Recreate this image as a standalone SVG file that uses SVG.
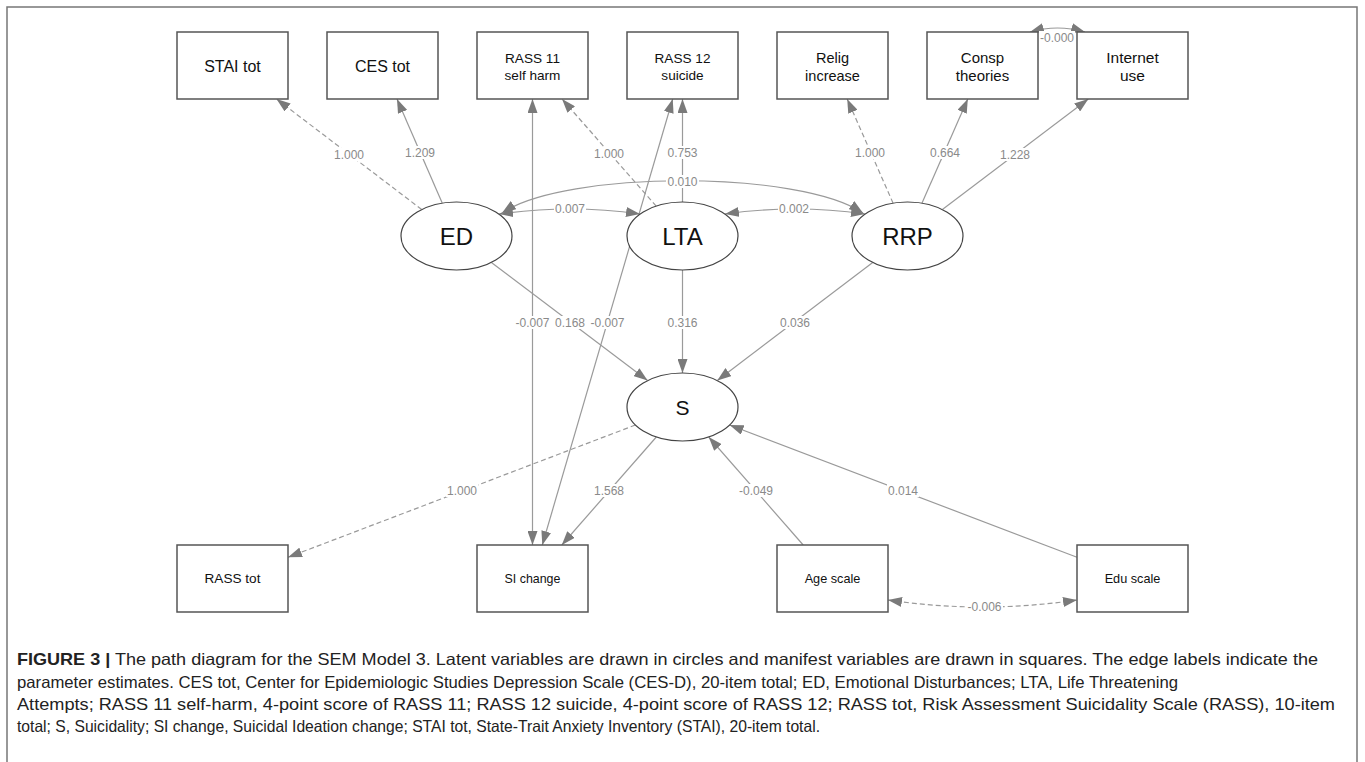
<svg xmlns="http://www.w3.org/2000/svg" width="1365" height="762" viewBox="0 0 1365 762">
<style>
.box{fill:#fff;stroke:#555;stroke-width:1.5}
.ell{fill:#fff;stroke:#444;stroke-width:1.2}
.nt{font-family:"Liberation Sans",Arial,sans-serif;fill:#111;text-anchor:middle}
.e{fill:none;stroke:#9a9a9a;stroke-width:1.2}
.d{stroke-dasharray:5 3}
.lb{fill:#fff}
.lt{font-family:"Liberation Sans",Arial,sans-serif;font-size:12px;fill:#8a8a8a;text-anchor:middle;dominant-baseline:central}
.cap{font-family:"Liberation Sans",Arial,sans-serif;font-size:16.5px;fill:#222}
</style>
<defs>
<marker id="ah" viewBox="0 0 14 10" refX="14" refY="5" markerWidth="14" markerHeight="10" markerUnits="userSpaceOnUse" orient="auto-start-reverse"><path d="M0,0 L14,5 L0,10 z" fill="#7a7a7a"/></marker>
</defs>
<rect width="1365" height="762" fill="#fff"/>
<path d="M7,762 V7 H1357 V762" fill="none" stroke="#777" stroke-width="1.5"/>

<g id="connectors">
<line class="e d" x1="421.7" y1="209.5" x2="276.5" y2="99" marker-end="url(#ah)"/>
<line class="e" x1="442.2" y1="203.1" x2="397" y2="99" marker-end="url(#ah)"/>
<line class="e d" x1="656.2" y1="206.1" x2="562" y2="99" marker-end="url(#ah)"/>
<line class="e" x1="682.5" y1="202" x2="682.5" y2="99" marker-end="url(#ah)"/>
<line class="e d" x1="893.1" y1="203.2" x2="847.2" y2="99" marker-end="url(#ah)"/>
<line class="e" x1="921.9" y1="203.2" x2="967.8" y2="99" marker-end="url(#ah)"/>
<line class="e" x1="942.4" y1="209.6" x2="1088.3" y2="99" marker-end="url(#ah)"/>
<line class="e" x1="491.4" y1="262.4" x2="647.6" y2="380.6" marker-end="url(#ah)"/>
<line class="e" x1="682.5" y1="270" x2="682.5" y2="373" marker-end="url(#ah)"/>
<line class="e" x1="872.7" y1="262.5" x2="717.3" y2="380.5" marker-end="url(#ah)"/>
<line class="e" x1="532.5" y1="99" x2="532.5" y2="545" marker-start="url(#ah)" marker-end="url(#ah)"/>
<line class="e" x1="672.7" y1="99" x2="542.3" y2="545" marker-start="url(#ah)" marker-end="url(#ah)"/>
<line class="e" x1="656.3" y1="437" x2="561.8" y2="545" marker-end="url(#ah)"/>
<line class="e d" x1="635.4" y1="425" x2="288" y2="557.3" marker-end="url(#ah)"/>
<line class="e" x1="803.2" y1="545" x2="708.7" y2="437" marker-end="url(#ah)"/>
<line class="e" x1="1077" y1="557.3" x2="729.6" y2="425" marker-end="url(#ah)"/>
<path class="e d" d="M888,600 Q982.5,614 1077,600" marker-start="url(#ah)" marker-end="url(#ah)"/>
<path class="e" d="M499,214 Q570,204 640,214" marker-start="url(#ah)" marker-end="url(#ah)"/>
<path class="e" d="M725,214 Q795,204 865,214" marker-start="url(#ah)" marker-end="url(#ah)"/>
<path class="e" d="M502,213 C565,170 800,170 863,213" marker-start="url(#ah)" marker-end="url(#ah)"/>
<path class="e" d="M1030,32 Q1057.5,24 1085,32" marker-start="url(#ah)" marker-end="url(#ah)"/>

<rect class="lb" x="333" y="148" width="32" height="13"/><text class="lt" x="349" y="155">1.000</text>
<rect class="lb" x="404" y="146" width="32" height="13"/><text class="lt" x="420" y="153">1.209</text>
<rect class="lb" x="593" y="147" width="32" height="13"/><text class="lt" x="609" y="154">1.000</text>
<rect class="lb" x="666" y="146" width="33" height="13"/><text class="lt" x="682.5" y="153">0.753</text>
<rect class="lb" x="854" y="146" width="32" height="13"/><text class="lt" x="870" y="153">1.000</text>
<rect class="lb" x="929" y="146" width="32" height="13"/><text class="lt" x="945" y="153">0.664</text>
<rect class="lb" x="999" y="148" width="32" height="13"/><text class="lt" x="1015" y="155">1.228</text>
<rect class="lb" x="666" y="175" width="33" height="13"/><text class="lt" x="682.5" y="182">0.010</text>
<rect class="lb" x="554" y="202" width="32" height="13"/><text class="lt" x="570" y="209">0.007</text>
<rect class="lb" x="778" y="202" width="32" height="13"/><text class="lt" x="794" y="209">0.002</text>
<rect class="lb" x="514" y="316" width="37" height="13"/><text class="lt" x="532.5" y="323">-0.007</text>
<rect class="lb" x="554" y="316" width="32" height="13"/><text class="lt" x="570" y="323">0.168</text>
<rect class="lb" x="589" y="316" width="37" height="13"/><text class="lt" x="607.5" y="323">-0.007</text>
<rect class="lb" x="666" y="316" width="33" height="13"/><text class="lt" x="682.5" y="323">0.316</text>
<rect class="lb" x="779" y="316" width="32" height="13"/><text class="lt" x="795" y="323">0.036</text>
<rect class="lb" x="446" y="484" width="32" height="13"/><text class="lt" x="462" y="491">1.000</text>
<rect class="lb" x="593" y="484" width="32" height="13"/><text class="lt" x="609" y="491">1.568</text>
<rect class="lb" x="738" y="484" width="37" height="13"/><text class="lt" x="756" y="491">-0.049</text>
<rect class="lb" x="887" y="484" width="32" height="13"/><text class="lt" x="903" y="491">0.014</text>
<rect class="lb" x="966" y="600" width="37" height="13"/><text class="lt" x="984.5" y="607">-0.006</text>
<rect class="lb" x="1039" y="31" width="36" height="13"/><text class="lt" x="1057" y="38">-0.000</text>
</g>

<g id="n-stai"><rect class="box" x="177" y="32" width="111" height="67"/><text class="nt" x="232.5" y="71.5" font-size="16">STAI tot</text></g>
<g id="n-ces"><rect class="box" x="327" y="32" width="111" height="67"/><text class="nt" x="382.5" y="71.5" font-size="16">CES tot</text></g>
<g id="n-rass11"><rect class="box" x="477" y="32" width="111" height="67"/><text class="nt" x="532.5" y="63" font-size="13.6">RASS 11</text><text class="nt" x="532.5" y="79.5" font-size="13.6">self harm</text></g>
<g id="n-rass12"><rect class="box" x="627" y="32" width="111" height="67"/><text class="nt" x="682.5" y="63" font-size="13.6">RASS 12</text><text class="nt" x="682.5" y="79.5" font-size="13.6">suicide</text></g>
<g id="n-relig"><rect class="box" x="777" y="32" width="111" height="67"/><text class="nt" x="832.5" y="63" font-size="14.5">Relig</text><text class="nt" x="832.5" y="80.5" font-size="14.5">increase</text></g>
<g id="n-consp"><rect class="box" x="927" y="32" width="111" height="67"/><text class="nt" x="982.5" y="63" font-size="15">Consp</text><text class="nt" x="982.5" y="80.5" font-size="15">theories</text></g>
<g id="n-internet"><rect class="box" x="1077" y="32" width="111" height="67"/><text class="nt" x="1132.5" y="63" font-size="15.5">Internet</text><text class="nt" x="1132.5" y="80.5" font-size="15.5">use</text></g>

<g id="n-ed"><ellipse class="ell" cx="456.5" cy="236" rx="55.5" ry="34"/><text class="nt" x="456.5" y="244.5" font-size="24">ED</text></g>
<g id="n-lta"><ellipse class="ell" cx="682.5" cy="236" rx="55.5" ry="34"/><text class="nt" x="682.5" y="244.5" font-size="24">LTA</text></g>
<g id="n-rrp"><ellipse class="ell" cx="907.5" cy="236" rx="55.5" ry="34"/><text class="nt" x="907.5" y="244.5" font-size="24">RRP</text></g>
<g id="n-s"><ellipse class="ell" cx="682.5" cy="407" rx="55.5" ry="34"/><text class="nt" x="682.5" y="414.5" font-size="21">S</text></g>

<g id="n-rasstot"><rect class="box" x="177" y="545" width="111" height="67"/><text class="nt" x="232.5" y="583" font-size="13.6">RASS tot</text></g>
<g id="n-sichange"><rect class="box" x="477" y="545" width="111" height="67"/><text class="nt" x="532.5" y="583" font-size="12.4">SI change</text></g>
<g id="n-age"><rect class="box" x="777" y="545" width="111" height="67"/><text class="nt" x="832.5" y="583" font-size="12.7">Age scale</text></g>
<g id="n-edu"><rect class="box" x="1077" y="545" width="111" height="67"/><text class="nt" x="1132.5" y="583" font-size="12.7">Edu scale</text></g>

<g id="caption">
<text class="cap" x="17" y="665" textLength="1301" lengthAdjust="spacingAndGlyphs"><tspan font-weight="bold">FIGURE 3 |</tspan> The path diagram for the SEM Model 3. Latent variables are drawn in circles and manifest variables are drawn in squares. The edge labels indicate the</text>
<text class="cap" x="17" y="688" textLength="1161" lengthAdjust="spacingAndGlyphs">parameter estimates. CES tot, Center for Epidemiologic Studies Depression Scale (CES-D), 20-item total; ED, Emotional Disturbances; LTA, Life Threatening</text>
<text class="cap" x="17" y="710" textLength="1318" lengthAdjust="spacingAndGlyphs">Attempts; RASS 11 self-harm, 4-point score of RASS 11; RASS 12 suicide, 4-point score of RASS 12; RASS tot, Risk Assessment Suicidality Scale (RASS), 10-item</text>
<text class="cap" x="17" y="732" textLength="803" lengthAdjust="spacingAndGlyphs">total; S, Suicidality; SI change, Suicidal Ideation change; STAI tot, State-Trait Anxiety Inventory (STAI), 20-item total.</text>
</g>
</svg>
